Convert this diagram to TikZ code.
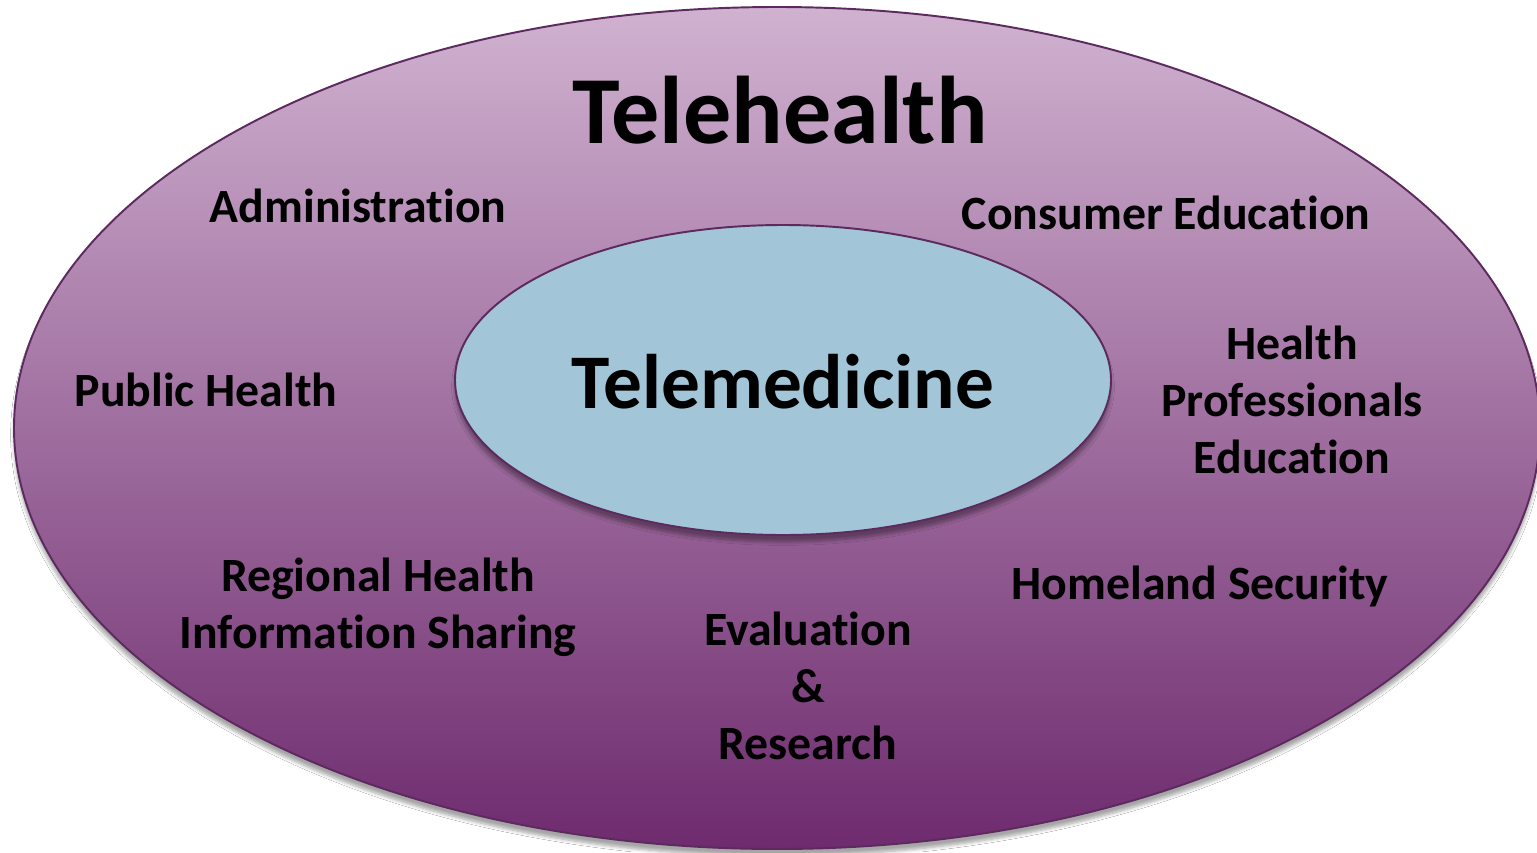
\documentclass[tikz,border=0pt]{standalone}
\usepackage{fontspec}
\setmainfont{Carlito}[Ligatures=NoCommon]
\usepackage{tikz}
\usetikzlibrary{calc, positioning, shadows.blur}

\definecolor{lilac}{HTML}{D0B2D0}
\definecolor{plum}{HTML}{6E2B6E}
\definecolor{rim}{HTML}{5C2A5E}
\definecolor{paleblue}{HTML}{A2C5D7}

\tikzset{
  label/.style={font=\bfseries\fontsize{27.2}{32.6}\selectfont, align=center, text=black},
  ringshadow/.style={blur shadow={shadow xshift=0pt, shadow yshift=-4pt, shadow blur steps=6, shadow opacity=35}}
}

\begin{document}
\begin{tikzpicture}[x=0.02cm, y=-0.02cm]
  \useasboundingbox (0,0) rectangle (1537,852);
  \fill [white] (0,0) rectangle (1537,852);
  % outer ring
  \coordinate (hub) at (777,428);
  \draw [ringshadow, rim, line width=1.1pt, top color=lilac, bottom color=plum]
    (hub) ellipse [x radius=763, y radius=421];
  % inner ring
  \coordinate (core) at (783,380);
  \draw [ringshadow, rim, line width=1.1pt, fill=paleblue]
    (core) ellipse [x radius=328, y radius=155];
  \node (tele) at (780,110) [font=\bfseries\fontsize{54.7}{60}\selectfont] {Telehealth};
  \node (med) at (783,382) [font=\bfseries\fontsize{44}{50}\selectfont] {Telemedicine};
  \node (admin) at (358,206) [label] {Administration};
  \node (consumer) at (1166,213) [label] {Consumer Education};
  \node (public) at (206,390) [label] {Public Health};
  \node (profs) at (1292,400) [label] {Health\\Professionals\\Education};
  \node (regional) at (378,607) [label] {Regional Health\\Information Sharing};
  \node (homeland) at (1200,586) [label] {Homeland Security};
  \node (evaluation) at (808,686) [label] {Evaluation\\\&\\Research};
\end{tikzpicture}
\end{document}
